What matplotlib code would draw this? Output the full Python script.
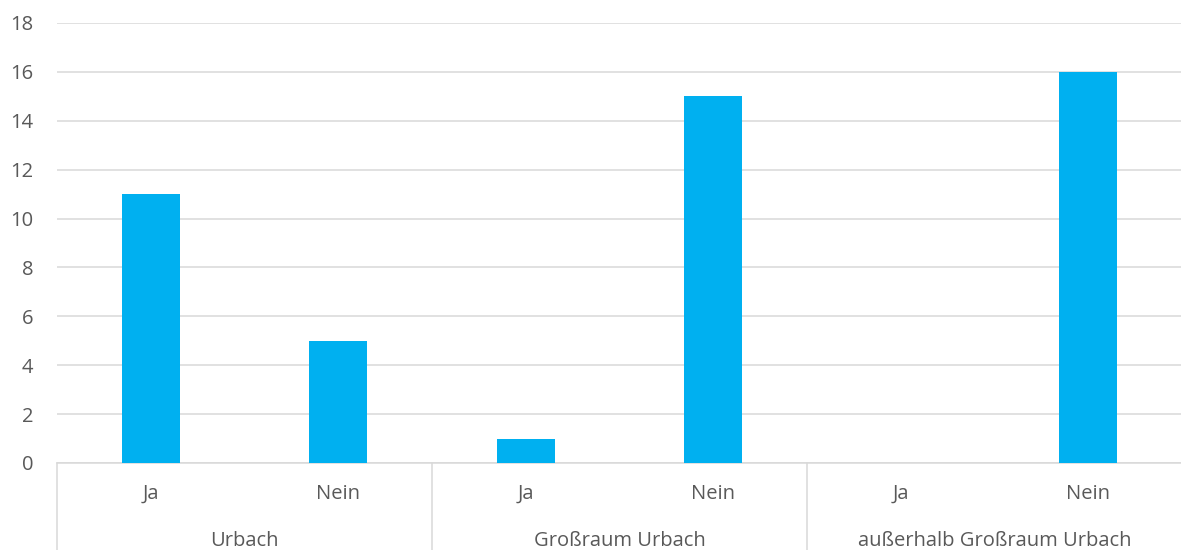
import numpy as np
import matplotlib
matplotlib.use("Agg")
from matplotlib import pyplot as plt
import matplotlib.transforms as mtransforms

# Antworten je Wohnort
gruppen = ["Urbach", "Großraum Urbach", "außerhalb Großraum Urbach"]
antworten = ["Ja", "Nein"]
werte = [11, 5, 1, 15, 0, 16]

plt.rcParams['font.family'] = ['Open Sans', 'DejaVu Sans']
textfarbe = '#595959'
linienfarbe = '#d9d9d9'
schrift = 14.5

fig = plt.figure(figsize=(11.81, 5.5), dpi=100)
ax = fig.add_axes([57/1181, 87/550, 1125/1181, 440/550])

x = np.arange(len(werte))
ax.bar(x, werte, width=0.31, color='#00B0F0', zorder=3)

ax.set_xlim(-0.5, len(werte) - 0.5)
ax.set_ylim(0, 18)
ax.set_yticks(np.arange(0, 19, 2))
ax.tick_params(axis='y', length=0, pad=17, labelsize=schrift, labelcolor=textfarbe)
ax.set_xticks([])
ax.grid(axis='y', color=linienfarbe, linewidth=1.1, zorder=0)
for s in ['top', 'right', 'left']:
    ax.spines[s].set_visible(False)
ax.spines['bottom'].set_color(linienfarbe)
ax.spines['bottom'].set_linewidth(1.1)

# zweistufige Kategorienachse
trans = mtransforms.blended_transform_factory(ax.transData, ax.transAxes)
for i, xi in enumerate(x):
    ax.text(xi, -0.0705, antworten[i % 2], transform=trans, ha='center', va='center',
            fontsize=schrift, color=textfarbe)
for g, name in enumerate(gruppen):
    ax.text(2 * g + 0.5, -0.177, name, transform=trans, ha='center', va='center',
            fontsize=schrift, color=textfarbe)
for grenze in np.arange(-0.5, len(werte), 2):
    ax.plot([grenze, grenze], [0, -0.25], transform=trans, color=linienfarbe,
            linewidth=1.1, clip_on=False)

fig.savefig("out.png", dpi=100)
